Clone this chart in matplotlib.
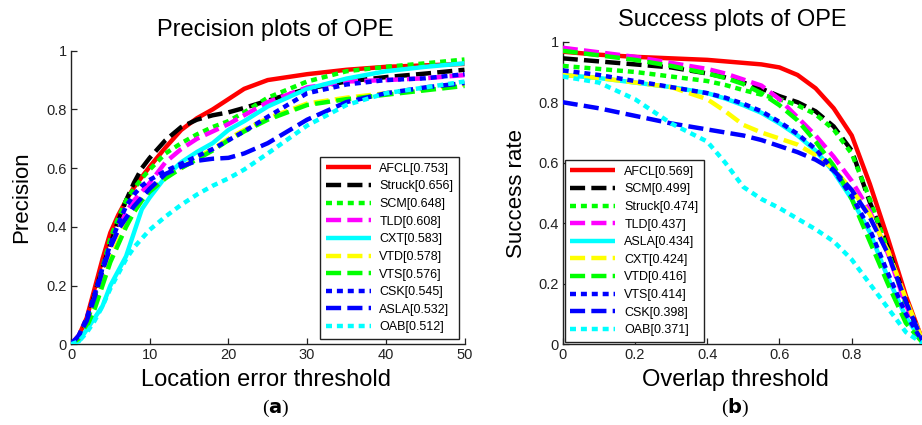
import matplotlib
matplotlib.use("Agg")
import matplotlib.pyplot as plt
from matplotlib import font_manager

names = {f.name for f in font_manager.fontManager.ttflist}
SANS = ['Liberation Sans Narrow', 'Liberation Sans', 'DejaVu Sans']
SANS = [f for f in SANS if f in names] or ['DejaVu Sans']
plt.rcParams['font.family'] = SANS

# ---------------- data: precision plot ----------------
prec_x = [0, 1, 2, 3, 4, 5, 6, 7, 8, 9, 10, 12, 14, 16, 18, 20, 22, 25, 30, 35, 40, 45, 50]
prec_names = ['AFCL', 'Struck', 'SCM', 'TLD', 'CXT', 'VTD', 'VTS', 'CSK', 'ASLA', 'OAB']
prec_scores = ['0.753', '0.656', '0.648', '0.608', '0.583', '0.578', '0.576', '0.545', '0.532', '0.512']
prec_afcl   = [0, 0.03, 0.09, 0.19, 0.29, 0.38, 0.44, 0.49, 0.535, 0.57, 0.605, 0.67, 0.73, 0.77, 0.80, 0.835, 0.87, 0.90, 0.92, 0.935, 0.945, 0.95, 0.955]
prec_struck = [0, 0.02, 0.08, 0.17, 0.26, 0.34, 0.42, 0.49, 0.55, 0.60, 0.635, 0.695, 0.74, 0.765, 0.78, 0.79, 0.805, 0.83, 0.87, 0.895, 0.91, 0.922, 0.935]
prec_scm    = [0, 0.02, 0.07, 0.16, 0.26, 0.36, 0.43, 0.49, 0.53, 0.565, 0.595, 0.65, 0.685, 0.715, 0.74, 0.76, 0.79, 0.84, 0.895, 0.93, 0.945, 0.957, 0.97]
prec_tld    = [0, 0.03, 0.08, 0.16, 0.25, 0.33, 0.39, 0.45, 0.49, 0.52, 0.55, 0.62, 0.665, 0.70, 0.725, 0.75, 0.78, 0.825, 0.875, 0.895, 0.90, 0.906, 0.917]
prec_cxt    = [0, 0.01, 0.05, 0.09, 0.13, 0.20, 0.25, 0.30, 0.38, 0.46, 0.50, 0.57, 0.62, 0.655, 0.685, 0.73, 0.76, 0.81, 0.87, 0.905, 0.93, 0.945, 0.957]
prec_vtd    = [0, 0.02, 0.06, 0.13, 0.21, 0.29, 0.35, 0.41, 0.45, 0.49, 0.525, 0.57, 0.60, 0.635, 0.665, 0.70, 0.73, 0.77, 0.82, 0.84, 0.855, 0.87, 0.885]
prec_vts    = [0, 0.02, 0.06, 0.12, 0.20, 0.28, 0.34, 0.40, 0.45, 0.49, 0.52, 0.565, 0.60, 0.63, 0.66, 0.695, 0.725, 0.765, 0.815, 0.835, 0.85, 0.865, 0.88]
prec_csk    = [0, 0.03, 0.09, 0.17, 0.26, 0.34, 0.41, 0.47, 0.51, 0.54, 0.56, 0.59, 0.615, 0.64, 0.665, 0.695, 0.725, 0.775, 0.855, 0.885, 0.90, 0.906, 0.92]
prec_asla   = [0, 0.03, 0.08, 0.16, 0.25, 0.33, 0.39, 0.43, 0.47, 0.50, 0.53, 0.58, 0.605, 0.625, 0.632, 0.635, 0.65, 0.685, 0.765, 0.825, 0.855, 0.875, 0.89]
prec_oab    = [0, 0.01, 0.04, 0.08, 0.13, 0.19, 0.24, 0.29, 0.33, 0.36, 0.39, 0.435, 0.475, 0.51, 0.54, 0.565, 0.595, 0.65, 0.745, 0.815, 0.855, 0.875, 0.895]
prec_series = [prec_afcl, prec_struck, prec_scm, prec_tld, prec_cxt, prec_vtd, prec_vts, prec_csk, prec_asla, prec_oab]

# ---------------- data: success plot ----------------
succ_x = [0, 0.1, 0.2, 0.3, 0.4, 0.45, 0.5, 0.55, 0.6, 0.65, 0.7, 0.75, 0.8, 0.85, 0.9, 0.95, 1.0]
succ_names = ['AFCL', 'SCM', 'Struck', 'TLD', 'ASLA', 'CXT', 'VTD', 'VTS', 'CSK', 'OAB']
succ_scores = ['0.569', '0.499', '0.474', '0.437', '0.434', '0.424', '0.416', '0.414', '0.398', '0.371']
succ_afcl   = [0.967, 0.957, 0.95, 0.945, 0.94, 0.935, 0.93, 0.925, 0.915, 0.89, 0.846, 0.78, 0.69, 0.53, 0.35, 0.16, 0.0]
succ_scm    = [0.945, 0.935, 0.925, 0.915, 0.895, 0.882, 0.865, 0.845, 0.82, 0.80, 0.77, 0.72, 0.64, 0.47, 0.32, 0.14, 0.0]
succ_struck = [0.92, 0.91, 0.90, 0.885, 0.87, 0.857, 0.84, 0.825, 0.81, 0.79, 0.76, 0.71, 0.63, 0.48, 0.31, 0.13, 0.0]
succ_tld    = [0.98, 0.965, 0.95, 0.93, 0.91, 0.895, 0.875, 0.855, 0.81, 0.75, 0.69, 0.62, 0.54, 0.44, 0.30, 0.13, 0.0]
succ_asla   = [0.89, 0.88, 0.865, 0.85, 0.83, 0.812, 0.79, 0.765, 0.73, 0.69, 0.64, 0.57, 0.48, 0.37, 0.22, 0.09, 0.0]
succ_cxt    = [0.89, 0.88, 0.865, 0.85, 0.81, 0.77, 0.725, 0.70, 0.68, 0.66, 0.625, 0.58, 0.51, 0.43, 0.31, 0.15, 0.0]
succ_vtd    = [0.97, 0.955, 0.94, 0.92, 0.895, 0.88, 0.86, 0.83, 0.79, 0.74, 0.67, 0.59, 0.48, 0.34, 0.20, 0.07, 0.0]
succ_vts    = [0.905, 0.89, 0.87, 0.85, 0.83, 0.815, 0.795, 0.77, 0.735, 0.695, 0.645, 0.575, 0.49, 0.38, 0.235, 0.10, 0.0]
succ_csk    = [0.80, 0.78, 0.755, 0.73, 0.71, 0.70, 0.69, 0.675, 0.655, 0.635, 0.61, 0.575, 0.51, 0.42, 0.30, 0.14, 0.0]
succ_oab    = [0.885, 0.865, 0.81, 0.73, 0.67, 0.60, 0.52, 0.48, 0.45, 0.415, 0.38, 0.34, 0.28, 0.20, 0.12, 0.04, 0.0]
succ_series = [succ_afcl, succ_scm, succ_struck, succ_tld, succ_asla, succ_cxt, succ_vtd, succ_vts, succ_csk, succ_oab]

prec_ticks = [0, 10, 20, 30, 40, 50]
prec_ticklabels = ['0', '10', '20', '30', '40', '50']
y_ticks = [0, 0.2, 0.4, 0.6, 0.8, 1.0]
y_ticklabels = ['0', '0.2', '0.4', '0.6', '0.8', '1']
succ_ticks = [0, 0.2, 0.4, 0.6, 0.8]
succ_ticklabels = ['0', '0.2', '0.4', '0.6', '0.8']

# ---------------- styles by rank ----------------
LW = 3.2
DASH = (0, (3.4, 1.4))
DOT = (0, (1.35, 1.1))
rank_styles = [
    ('#ff0000', '-'),
    ('#000000', DASH),
    ('#00ff00', DOT),
    ('#ff00ff', DASH),
    ('#00ffff', '-'),
    ('#ffff00', DASH),
    ('#00ff00', DASH),
    ('#0000ff', DOT),
    ('#0000ff', DASH),
    ('#00ffff', DOT),
]

W, H = 922, 425
fig = plt.figure(figsize=(W / 100, H / 100), dpi=100)

def px(x0, y0, x1, y1):
    return [x0 / W, 1 - y1 / H, (x1 - x0) / W, (y1 - y0) / H]

ax1 = fig.add_axes(px(71, 50.7, 464.5, 344.3))
ax2 = fig.add_axes(px(562.7, 41.7, 924.0, 344.3))

def style_axes(ax):
    for s in ['top', 'right']:
        ax.spines[s].set_visible(False)
    for s in ['left', 'bottom']:
        ax.spines[s].set_linewidth(1.0)
        ax.spines[s].set_color('#222222')
    ax.tick_params(direction='in', length=4, width=0.9, labelsize=10.5,
                   colors='#222222', pad=3)

for xs, series, names_, scores, ax in [
        (prec_x, prec_series, prec_names, prec_scores, ax1),
        (succ_x, succ_series, succ_names, succ_scores, ax2)]:
    for i, (ys, nm, sc) in enumerate(zip(series, names_, scores)):
        col, ls = rank_styles[i]
        ax.plot(xs, ys, color=col, linestyle=ls, linewidth=LW,
                dash_capstyle='butt', solid_capstyle='butt',
                label=f'{nm}[{sc}]', zorder=3 + i)
    style_axes(ax)
    ax.set_ylim(0, 1)
    ax.set_yticks(y_ticks)
    ax.set_yticklabels(y_ticklabels)

ax1.set_xlim(0, 50)
ax1.set_xticks(prec_ticks)
ax1.set_xticklabels(prec_ticklabels)
ax2.set_xlim(0, 1)
ax2.set_xticks(succ_ticks)
ax2.set_xticklabels(succ_ticklabels)

leg_kw = dict(fontsize=9, labelspacing=0.45, handlelength=3.6, handletextpad=0.7,
              borderpad=0.45, borderaxespad=0, fancybox=False, framealpha=1,
              edgecolor='#222222')
lg1 = ax1.legend(loc='lower right', bbox_to_anchor=(0.986, 0.018), **leg_kw)
lg2 = ax2.legend(loc='lower left', bbox_to_anchor=(0.006, 0.008), **leg_kw)
for lg in (lg1, lg2):
    lg.get_frame().set_linewidth(1.0)
    lg.set_zorder(20)

# titles and axis labels
fig.text(275 / W, 1 - 30 / H, 'Precision plots of OPE', ha='center', va='center', fontsize=17)
fig.text(732 / W, 1 - 20 / H, 'Success plots of OPE', ha='center', va='center', fontsize=17)
fig.text(22 / W, 1 - 197 / H, 'Precision', ha='center', va='center', rotation=90, fontsize=16)
fig.text(516 / W, 1 - 193 / H, 'Success rate', ha='center', va='center', rotation=90, fontsize=16)
fig.text(266 / W, 1 - 380 / H, 'Location error threshold', ha='center', va='center', fontsize=17)
fig.text(735 / W, 1 - 380 / H, 'Overlap threshold', ha='center', va='center', fontsize=17)

SERIF = ['Liberation Serif', 'DejaVu Serif']
fig.text(276 / W, 1 - 408 / H, r'($\mathbf{a}$)', ha='center', va='center', fontsize=14,
         family=SERIF)
fig.text(735 / W, 1 - 408 / H, r'($\mathbf{b}$)', ha='center', va='center', fontsize=14,
         family=SERIF)

fig.savefig('out.png', dpi=100)
